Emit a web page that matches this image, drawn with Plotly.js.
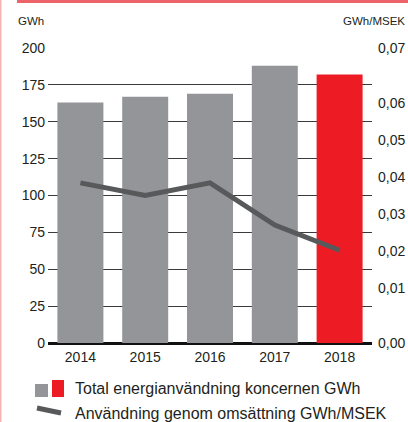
<!DOCTYPE html>
<html>
<head>
<meta charset="utf-8">
<script src="https://cdn.plot.ly/plotly-3.0.1.min.js"></script>
<style>
  html, body { margin: 0; padding: 0; background: #fff; }
  #chart { width: 408px; height: 422px; }
</style>
</head>
<body>
<div id="chart"></div>
<script>
// data
const years = ['2014', '2015', '2016', '2017', '2018'];
const energyGWh = [163, 167, 169, 188, 182];
const gwhPerMsek = [0.038, 0.035, 0.038, 0.028, 0.022];
const barColors = ['#939598', '#939598', '#939598', '#939598', '#ed1c24'];

const leftTicks = [0, 25, 50, 75, 100, 125, 150, 175, 200];
// right labels sit between the left grid lines in the original (given in GWh units)
const rightTickPos = [0, 37.5, 62.5, 87.5, 112.5, 137.5, 162.5, 200];
const rightTickText = ['0,00', '0,01', '0,02', '0,03', '0,04', '0,05', '0,06', '0,07'];

const legendBars = 'Total energianvändning koncernen GWh';
const legendLine = 'Användning genom omsättning GWh/MSEK';

const FONT = '"Liberation Sans", Arial, sans-serif';
const TXT = '#231f20';

const LEFT_MAX = 200, RIGHT_MAX = 0.07;

// plot area in pixels: x 48..372, y 48..343
const L = 48, R = 372, T = 48, B = 343;
const px = x => (x - L) / (R - L);
const py = y => (B - y) / (B - T);

const traces = [
  {
    x: years,
    y: energyGWh,
    type: 'bar',
    marker: { color: barColors },
    showlegend: false
  },
  {
    x: years,
    y: gwhPerMsek,
    yaxis: 'y2',
    type: 'scatter',
    mode: 'lines',
    line: { color: '#58595b', width: 5 },
    showlegend: false
  }
];

const layout = {
  width: 408,
  height: 422,
  margin: { l: L, r: 408 - R, t: T, b: 422 - B },
  paper_bgcolor: '#ffffff',
  plot_bgcolor: '#ffffff',
  font: { family: FONT, color: TXT, size: 14 },
  bargap: 0.29,
  showlegend: false,
  xaxis: {
    type: 'category',
    showgrid: false,
    showline: false,
    ticks: '',
    ticklabelstandoff: 4,
    tickfont: { size: 14 },
    fixedrange: true
  },
  yaxis: {
    range: [0, LEFT_MAX],
    tickvals: leftTicks,
    showgrid: true,
    gridcolor: '#3a3a3a',
    gridwidth: 1,
    zeroline: true,
    zerolinecolor: '#111',
    zerolinewidth: 3,
    showline: false,
    ticks: '',
    ticklabelstandoff: 2,
    tickfont: { size: 14 },
    fixedrange: true
  },
  yaxis2: {
    range: [0, RIGHT_MAX],
    overlaying: 'y',
    side: 'right',
    tickvals: rightTickPos.map(v => v * RIGHT_MAX / LEFT_MAX),
    ticktext: rightTickText,
    showgrid: false,
    zeroline: false,
    ticks: '',
    ticklabelstandoff: 5,
    tickfont: { size: 14 },
    fixedrange: true
  },
  shapes: [
    // red band at the top
    { type: 'rect', xref: 'paper', yref: 'paper', x0: px(17), x1: px(408), y0: py(0), y1: py(3),
      fillcolor: '#ec6469', line: { width: 0 } },
    // pink edge on the left
    { type: 'rect', xref: 'paper', yref: 'paper', x0: px(0), x1: px(1.5), y0: py(0), y1: py(422),
      fillcolor: '#f6b3b6', line: { width: 0 } },
    // legend swatches
    { type: 'rect', xref: 'paper', yref: 'paper', x0: px(35), x1: px(48), y0: py(384), y1: py(397),
      fillcolor: barColors[0], line: { width: 0 } },
    { type: 'rect', xref: 'paper', yref: 'paper', x0: px(52), x1: px(64), y0: py(380), y1: py(397),
      fillcolor: barColors[4], line: { width: 0 } },
    { type: 'line', xref: 'paper', yref: 'paper', x0: px(37), x1: px(61), y0: py(408), y1: py(413),
      line: { color: '#58595b', width: 5 } }
  ],
  annotations: [
    { text: 'GWh', xref: 'paper', yref: 'paper', x: px(16), y: py(21), xanchor: 'left', yanchor: 'middle',
      showarrow: false, font: { size: 11.5, color: TXT } },
    { text: 'GWh/MSEK', xref: 'paper', yref: 'paper', x: px(407), y: py(21), xanchor: 'right', yanchor: 'middle',
      showarrow: false, font: { size: 11.5, color: TXT } },
    { text: legendBars, xref: 'paper', yref: 'paper', x: px(73), y: py(388), xanchor: 'left', yanchor: 'middle',
      showarrow: false, font: { size: 16, color: TXT } },
    { text: legendLine, xref: 'paper', yref: 'paper', x: px(73), y: py(413), xanchor: 'left', yanchor: 'middle',
      showarrow: false, font: { size: 16, color: TXT } }
  ]
};

Plotly.newPlot('chart', traces, layout, { displayModeBar: false, staticPlot: true });
</script>
</body>
</html>
